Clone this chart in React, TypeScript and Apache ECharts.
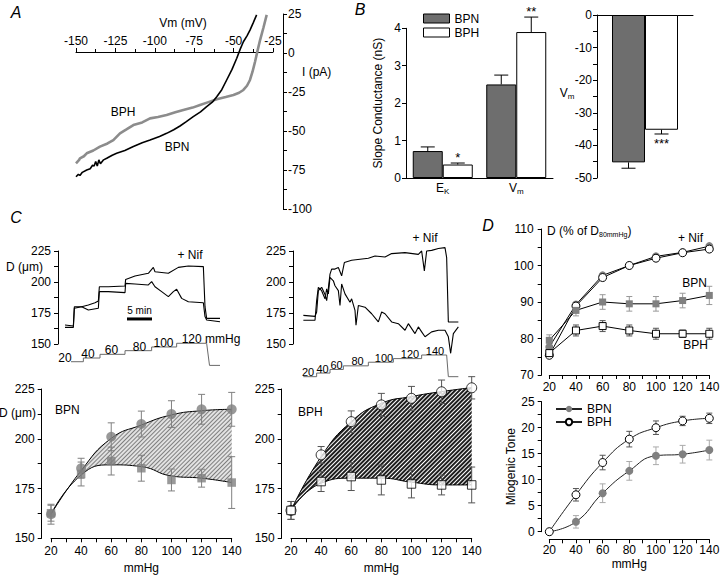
import React, { useEffect, useRef } from 'react';
import * as echarts from 'echarts';

const FONT = "'Liberation Sans', Arial, Helvetica, sans-serif";

// ---------------- Panel A : I-V relations ----------------
const A_BPN_VM = [-150, -148.5, -147.5, -146, -143.2, -141, -139.5, -138.5, -137.5, -136.5, -135.5, -134.5, -132.5, -130.5, -127, -124.2, -119, -113.6, -108, -103, -97, -92.5, -88, -84, -80, -75.6, -71, -67.1, -63.5, -60.7, -57.5, -54.4, -51, -48, -45.8, -43.8, -41.5, -39.6, -37.5, -35.4];
const A_BPN_I = [-79.3, -77.8, -78.5, -76.5, -75, -74.2, -72, -72.5, -69.5, -72.5, -68.5, -71, -68.5, -67.5, -65.5, -64.3, -62.5, -60, -57.5, -55.8, -53.5, -51.5, -49.2, -46.8, -44, -40.8, -37.7, -34.4, -31.5, -28, -23.5, -17.3, -10.5, -3.4, 2.5, 7.2, 11, 14.7, 19.5, 24.4];
const A_BPH_VM = [-150, -148, -147.5, -145, -143.2, -139, -134.8, -130, -126.3, -122.1, -118, -113.6, -108, -103, -98, -92.5, -87, -81.9, -76, -71.3, -66, -60.7, -55, -50.1, -46.5, -43.8, -41.5, -39.6, -38, -36.4, -34.8, -33.2, -31, -29];
const A_BPH_I = [-70.7, -68.5, -67.5, -66.2, -64.3, -62.5, -60, -58, -55.8, -51.5, -49, -46.2, -44.5, -41.9, -41, -39.7, -38, -36.5, -35, -33.3, -31.5, -29.7, -28.2, -26.9, -25.5, -23.7, -21, -17.3, -12, -5.6, 1.5, 8.3, 16.5, 24.4];

// ---------------- Panel B : slope conductance & Vm ----------------
const B_CATS = ['EK', 'Vm'];
const B_BPN = [0.72, 2.5];
const B_BPN_ERR = [0.11, 0.25];
const B_BPH = [0.36, 3.9];
const B_BPH_ERR = [0.04, 0.4];
const B_BPH_STARS = ['*', '**'];
const BV_CATS = ['Vm'];
const BV_BPN = [-45.2];
const BV_BPN_ERR = [1.8];
const BV_BPH = [-35.2];
const BV_BPH_ERR = [1.3];
const BV_BPH_STARS = ['***'];

// ---------------- Panel C top : diameter traces (minutes, µm) ----------------
const C1_UP_T = [1.4, 3.07, 3.27, 4.73, 6.07, 7.4, 8.07, 8.27, 10.07, 13.4, 13.53, 15.4, 18.07, 19.07, 19.4, 22.07, 24.07, 26.07, 29.07, 29.4, 29.73, 32.4];
const C1_UP_D = [165.3, 164.5, 180.1, 180.1, 181.5, 183.3, 184.7, 196.2, 196.2, 196.8, 202.1, 204.8, 207, 211.8, 208.3, 207, 211.8, 212.9, 212.4, 180.1, 170.7, 170.7];
const C1_LO_T = [1.4, 3.07, 3.27, 4.73, 6.07, 8.07, 8.27, 10.07, 13.4, 13.53, 15.4, 18.07, 18.73, 19.4, 20.73, 22.07, 23.07, 23.73, 24.73, 26.07, 29.07, 29.4, 29.73, 32.4];
const C1_LO_D = [163.4, 163.4, 178.8, 180.1, 177.4, 178.8, 192.2, 192.2, 191.4, 198.9, 198.4, 197.6, 200.3, 196.2, 192.2, 188.2, 192.2, 194.1, 186.8, 184.1, 183.3, 172.1, 169.4, 168];
const C2_UP_T = [2.07, 4.4, 4.73, 5.07, 5.73, 6.4, 6.73, 7.07, 7.4, 7.73, 8.4, 9.07, 9.73, 10.27, 11.73, 15.07, 16.4, 18.4, 19.73, 22.4, 25.07, 25.73, 26.27, 26.73, 27.73, 29.07, 30.4, 30.73, 31.07, 31.73, 33.07];
const C2_UP_D = [173.1, 172.3, 175.8, 193, 195.7, 190, 185, 195, 206.4, 210.4, 210.4, 211.7, 205, 215.7, 217.5, 219.1, 221, 220.2, 222.9, 223.7, 222.3, 225, 209, 225, 225.5, 227, 227.7, 219.7, 167.8, 167.8, 167.8];
const C2_LO_T = [2.07, 4.4, 4.73, 5.07, 5.73, 6.4, 6.73, 7.07, 7.4, 7.73, 8.07, 8.4, 9.07, 9.4, 9.73, 10.4, 11.4, 11.73, 12.4, 12.6, 13.07, 14.4, 15.73, 17.07, 17.73, 18.4, 19.73, 21.07, 22.4, 23.07, 24.4, 25.07, 25.73, 26.4, 27.73, 29.07, 30.4, 31.07, 31.53, 32.07, 33.07];
const C2_LO_D = [169.1, 169.1, 185, 195.7, 193, 186.4, 194.4, 190.4, 203.7, 202.4, 201, 197, 193, 181, 198.4, 190.4, 183.7, 186.4, 177.1, 165.1, 181, 179.7, 174.4, 167.8, 175.8, 174.4, 167.8, 166.4, 161.1, 166.4, 158.4, 163.8, 159.8, 155.8, 159.8, 161.1, 161.1, 155.8, 142.5, 158.4, 163.8];
const SCALE_BAR_T = [13.8, 18.8];
const SCALE_BAR_D = [170.2, 170.2];

// pressure protocol (minutes, mmHg)
const P1_T = [2.6, 5.07, 5.07, 8.4, 8.4, 13.4, 13.4, 18.73, 18.73, 23.73, 23.73, 29.73, 30.3, 32.4];
const P1_P = [20, 20, 40, 40, 60, 60, 80, 80, 100, 100, 120, 120, 0, 0];
const P1_LBL_T = [1.4, 6.0, 10.7, 16.3, 21.1, 30.6];
const P1_LBL_P = [20, 40, 60, 80, 100, 120];
const P1_LBL = ['20', '40', '60', '80', '100', '120 mmHg'];
const P2_T = [2.07, 4.73, 4.73, 7.4, 7.4, 10.07, 10.07, 15.07, 15.07, 20.07, 20.07, 25.73, 25.73, 30.73, 31.07, 33.07];
const P2_P = [20, 20, 40, 40, 60, 60, 80, 80, 100, 100, 120, 120, 140, 140, 20, 20];
const P2_LBL_T = [3.0, 5.9, 8.7, 12.9, 18.2, 23.4, 28.4];
const P2_LBL_P = [20, 40, 60, 80, 100, 120, 140];
const P2_LBL = ['20', '40', '60', '80', '100', '120', '140'];

// ---------------- Panel C bottom : pressure-diameter ----------------
const PRESS = [20, 40, 60, 80, 100, 120, 140];
const CN_PASS = [162.1, 185.2, 201, 207.4, 212.4, 214.8, 214.8];
const CN_PASS_ERR = [5, 5, 7, 6.5, 6.7, 7.5, 8.5];
const CN_ACT = [162.6, 182.3, 188.8, 185.2, 179.3, 180.2, 178];
const CN_ACT_ERR = [4, 6, 7, 6.5, 5.5, 4.5, 13];
const CN_FIT_UP = [162.1, 184, 200.2, 206.9, 212, 214.1, 214.8];
const CN_FIT_LO = [162.1, 181.8, 186.9, 186, 181.3, 180.2, 178];
const CH_PASS = [164, 191.9, 208.6, 217, 220.3, 223.6, 225.6];
const CH_PASS_ERR = [4.5, 4.2, 5.4, 5.8, 6, 5.9, 5.6];
const CH_ACT = [164, 178.5, 181, 179.3, 177.3, 176.8, 176.8];
const CH_ACT_ERR = [4.5, 5, 7, 7.5, 7, 5, 9];
const CH_FIT_UP = [164, 191, 208.6, 217.8, 221.2, 223.7, 225.7];
const CH_FIT_LO = [164, 177.7, 180.2, 180.2, 178.2, 176.8, 176.8];

// ---------------- Panel D ----------------
const DT_BPN_NIF = [77.7, 89.3, 97.3, 100, 102.5, 103.6, 105.3];
const DT_BPH_NIF = [75.4, 88.9, 96.7, 100, 102, 103.5, 104.5];
const DT_BPN = [79.5, 87.7, 90, 89.5, 89.5, 90.4, 91.8];
const DT_BPN_ERR = [1.5, 1.5, 2, 2, 2, 2, 2.5];
const DT_BPH = [76, 82.2, 83.4, 82.2, 81.3, 81.3, 81.3];
const DT_BPH_ERR = [1, 1.5, 1.5, 1.5, 1.5, 1, 1.5];
const DB_BPN = [0, 1.9, 7.4, 11.7, 14.6, 14.9, 15.7];
const DB_BPN_ERR = [0.3, 1.2, 1.8, 1.8, 1.7, 1.7, 1.9];
const DB_BPH = [0, 7.1, 13.3, 17.8, 20, 21.3, 21.8];
const DB_BPH_ERR = [0.3, 1.2, 1.4, 1.5, 1.3, 0.9, 1.0];

// ---------------- helpers ----------------
const zip = (a: any[], b: any[]) => a.map((v, i) => [v, b[i]]);

function isObj(v: any) { return v && typeof v === 'object' && !Array.isArray(v) && typeof v !== 'function'; }
function merge(a: any, b: any): any {
  const out: any = { ...a };
  Object.keys(b || {}).forEach((k) => {
    out[k] = isObj(a?.[k]) && isObj(b[k]) ? merge(a[k], b[k]) : b[k];
  });
  return out;
}

const BLACK = '#000';
const baseAxis = {
  axisLine: { show: true, onZero: false, lineStyle: { color: BLACK, width: 1 } },
  axisTick: { show: true, length: 4, lineStyle: { color: BLACK, width: 1 } },
  minorTick: { show: false },
  axisLabel: { show: true, color: BLACK, fontSize: 12, fontFamily: FONT, margin: 6, showMinLabel: true, showMaxLabel: true },
  splitLine: { show: false },
  nameTextStyle: { color: BLACK, fontSize: 12, fontFamily: FONT },
};
const minor = { minorTick: { show: true, splitNumber: 2, length: 4, lineStyle: { color: BLACK, width: 1 } } };
const vAxis = (o: any) => merge(merge({ type: 'value' }, baseAxis), o);
const hidden = (gridIndex: number, min: number, max: number) => ({ type: 'value', show: false, gridIndex, min, max });

function errSeries(xi: number, yi: number, xs: any[], means: number[], errs: number[], opts: any) {
  const data = xs.map((x, i) => [x, means[i], errs[i]]);
  return {
    type: 'custom', xAxisIndex: xi, yAxisIndex: yi, data, z: opts.z ?? 3, clip: false, silent: true,
    encode: { x: 0, y: 1 },
    renderItem: (params: any, api: any) => {
      const x = api.value(0), m = api.value(1), e = api.value(2);
      const c = api.coord([x, m]);
      const up = api.coord([x, m + e]);
      const dn = api.coord([x, m - e]);
      const cx = c[0] + (opts.dx || 0);
      const w = opts.cap ?? 3;
      const st = { stroke: opts.color || BLACK, lineWidth: opts.width || 1 };
      const top = opts.dir === 'down' ? c[1] : up[1];
      const bot = opts.dir === 'up' ? c[1] : dn[1];
      const children: any[] = [{ type: 'line', shape: { x1: cx, y1: top, x2: cx, y2: bot }, style: st }];
      if (opts.dir !== 'down') children.push({ type: 'line', shape: { x1: cx - w, y1: up[1], x2: cx + w, y2: up[1] }, style: st });
      if (opts.dir !== 'up') children.push({ type: 'line', shape: { x1: cx - w, y1: dn[1], x2: cx + w, y2: dn[1] }, style: st });
      if (opts.stars) {
        const s = opts.stars[params.dataIndex];
        const ty = opts.dir === 'down' ? dn[1] + 10 : up[1] - 6;
        children.push({ type: 'text', x: cx, y: ty, style: { text: s, fill: BLACK, fontSize: 13, fontFamily: FONT, align: 'center', verticalAlign: 'middle', textAlign: 'center', textVerticalAlign: 'middle' } });
      }
      return { type: 'group', children };
    },
  };
}

// step labels of the pressure protocol, placed at data coordinates
function stepLabels(xi: number, ts: number[], ps: number[], labels: string[], size: number, dy: number) {
  return {
    type: 'custom', xAxisIndex: xi, yAxisIndex: xi, z: 6, clip: false, silent: true,
    data: ts.map((t, i) => [t, ps[i], i]),
    encode: { x: 0, y: 1 },
    renderItem: (params: any, api: any) => {
      const p = api.coord([api.value(0), api.value(1)]);
      return {
        type: 'text', x: p[0], y: p[1] + dy,
        style: { text: labels[params.dataIndex], fill: '#000000', fontSize: size, fontFamily: FONT, align: 'center', verticalAlign: 'bottom', textAlign: 'center', textVerticalAlign: 'bottom' },
      };
    },
  };
}

const txt = (x: number, y: number, text: string, extra: any = {}, el: any = {}) => ({
  type: 'text', x, y, silent: true, ...el,
  style: { text, fill: BLACK, fontSize: 12, fontFamily: FONT, align: 'center', verticalAlign: 'middle', textAlign: 'center', textVerticalAlign: 'middle', ...extra },
});

const GRAY = '#808080';
const openSym = { color: '#fff', borderColor: BLACK, borderWidth: 1 };
const grayFill = { color: GRAY, borderColor: GRAY, borderWidth: 0 };

function buildOption() {
  const grids = [
    { left: 76, top: 14, width: 197, height: 195 },          // 0 A (data)
    { left: 406, top: 28.3, width: 147, height: 149.7 },     // 1 B
    { left: 597, top: 15, width: 96, height: 163 },          // 2 B Vm
    { left: 58, top: 251, width: 170, height: 93 },          // 3 C trace BPN
    { left: 58, top: 339.6, width: 170, height: 25.8 },      // 4 C pressure BPN
    { left: 293, top: 251, width: 170, height: 93 },         // 5 C trace BPH
    { left: 293, top: 353.2, width: 170, height: 27.1 },     // 6 C pressure BPH
    { left: 51, top: 389, width: 180.7, height: 149.3 },     // 7 C BPN P-D
    { left: 291, top: 389, width: 180.7, height: 149.3 },    // 8 C BPH P-D
    { left: 549.3, top: 229, width: 160, height: 146 },      // 9 D top
    { left: 549.3, top: 401.7, width: 160, height: 130 },    // 10 D bottom
    { left: 76, top: 14, width: 197, height: 38 },           // 11 A voltage axis at I = 0
  ].map((g) => ({ ...g, containLabel: false, outerBoundsMode: 'none', show: false }));

  const pressX = (gi: number, extra: any = {}) => vAxis(merge({
    gridIndex: gi, min: 20, max: 140, interval: 20, position: 'bottom',
    axisLabel: { margin: 7 },
  }, merge(minor, extra)));

  const xAxis = [
    hidden(0, -150, -25),
    merge(baseAxis, { type: 'category', gridIndex: 1, data: B_CATS, axisTick: { show: false }, axisLine: { onZero: true },
      axisLabel: { margin: 3, formatter: (v: string) => (v === 'EK' ? '{m|E}{s|K}' : '{m|V}{s|m}'),
        rich: { m: { fontSize: 12, fontFamily: FONT, color: BLACK }, s: { fontSize: 8, fontFamily: FONT, color: BLACK, padding: [6, 0, 0, 0] } } } }),
    merge(baseAxis, { type: 'category', gridIndex: 2, data: BV_CATS, position: 'top', axisTick: { show: false }, axisLabel: { show: false } }),
    hidden(3, 0, 34),
    hidden(4, 0, 34),
    hidden(5, 0, 34),
    hidden(6, 0, 34),
    pressX(7, { name: 'mmHg', nameLocation: 'middle', nameGap: 24 }),
    pressX(8, { name: 'mmHg', nameLocation: 'middle', nameGap: 24 }),
    pressX(9, { axisLabel: { margin: 6 } }),
    pressX(10, { offset: 7.6, axisLabel: { margin: 5 }, name: 'mmHg', nameLocation: 'middle', nameGap: 19 }),
    vAxis(merge(minor, { gridIndex: 11, min: -150, max: -25, interval: 25, position: 'bottom', axisTick: { inside: true }, minorTick: { length: 3 }, axisLabel: { inside: true, margin: 5 } })),
  ];

  const yAxis = [
    vAxis(merge(minor, { gridIndex: 0, min: -100, max: 25, interval: 25, position: 'right', offset: 10, axisLabel: { margin: 5 } })),
    vAxis({ gridIndex: 1, min: 0, max: 4, interval: 1, axisLabel: { margin: 5 }, name: 'Slope Conductance (nS)', nameLocation: 'middle', nameRotate: 90, nameGap: 22 }),
    vAxis(merge(minor, { gridIndex: 2, min: -50, max: 0, interval: 10, axisLabel: { margin: 5 } })),
    vAxis(merge(minor, { gridIndex: 3, min: 150, max: 225, interval: 25, axisLabel: { margin: 7 } })),
    hidden(4, 0, 140),
    vAxis(merge(minor, { gridIndex: 5, min: 150, max: 225, interval: 25, axisLabel: { margin: 7 } })),
    hidden(6, 0, 150),
    vAxis(merge(minor, { gridIndex: 7, min: 150, max: 225, interval: 25, offset: 9.3, axisLabel: { margin: 7 } })),
    vAxis(merge(minor, { gridIndex: 8, min: 150, max: 225, interval: 25, offset: 9.3, axisLabel: { margin: 7 } })),
    vAxis(merge(minor, { gridIndex: 9, min: 70, max: 110, interval: 10, offset: 7.6, axisLabel: { margin: 8 } })),
    vAxis(merge(minor, { gridIndex: 10, min: 0, max: 25, interval: 5, offset: 7.6, axisLabel: { margin: 7 }, name: 'Miogenic Tone', nameLocation: 'middle', nameRotate: 90, nameGap: 22 })),
    hidden(11, 0, 25),
  ];

  const lineS = (xi: number, data: any[], color: string, width: number, extra: any = {}) => merge({
    type: 'line', xAxisIndex: xi, yAxisIndex: xi, data, symbol: 'none', showSymbol: false, clip: false,
    lineStyle: { color, width }, z: 2, silent: true,
  }, extra);

  const scatterS = (xi: number, data: any[], symbol: string, size: number, itemStyle: any, name?: string) => ({
    type: 'scatter', name, xAxisIndex: xi, yAxisIndex: xi, data, symbol, symbolSize: size, itemStyle, z: 5, silent: true, clip: false,
  });

  // band between two fitted curves: values stacked along the first dimension (the y value)
  const band = (xi: number, lo: number[], up: number[], stack: string, bg: string, hatch: any) => [
    lineS(xi, zip(lo, PRESS), BLACK, 1, { stack, smooth: true, z: 2, encode: { x: 1, y: 0 } }),
    lineS(xi, zip(up.map((v, i) => v - lo[i]), PRESS), BLACK, 1, {
      stack, smooth: true, z: 1, encode: { x: 1, y: 0 },
      lineStyle: { decal: hatch },
      itemStyle: { decal: hatch },
      areaStyle: { color: bg, opacity: 1 },
    }),
  ];

  const hatchN = { symbol: 'rect', symbolSize: 1, color: '#7e7e7e', dashArrayX: [1, 0], dashArrayY: [1, 1.6], rotation: -Math.PI / 4 };
  const hatchH = { symbol: 'rect', symbolSize: 1, color: '#1e1e1e', dashArrayX: [1, 0], dashArrayY: [1.2, 0.9], rotation: -Math.PI / 4 };

  const series: any[] = [
    // A
    lineS(0, zip(A_BPH_VM, A_BPH_I), '#8c8c8c', 2.6),
    lineS(0, zip(A_BPN_VM, A_BPN_I), BLACK, 1.6, { z: 3 }),
    // B
    { type: 'bar', name: 'BPN', xAxisIndex: 1, yAxisIndex: 1, data: B_BPN, barWidth: 30, barGap: '0%', itemStyle: { color: '#6e6e6e', borderColor: BLACK, borderWidth: 1 }, silent: true },
    { type: 'bar', name: 'BPH', xAxisIndex: 1, yAxisIndex: 1, data: B_BPH, barWidth: 30, barGap: '0%', itemStyle: { color: '#fff', borderColor: BLACK, borderWidth: 1 }, silent: true },
    errSeries(1, 1, B_CATS, B_BPN, B_BPN_ERR, { dir: 'up', dx: -15, cap: 7 }),
    errSeries(1, 1, B_CATS, B_BPH, B_BPH_ERR, { dir: 'up', dx: 15, cap: 7, stars: B_BPH_STARS }),
    { type: 'bar', name: 'BPN Vm', xAxisIndex: 2, yAxisIndex: 2, data: BV_BPN, barWidth: 33, barGap: '0%', itemStyle: { color: '#6e6e6e', borderColor: BLACK, borderWidth: 1 }, silent: true },
    { type: 'bar', name: 'BPH Vm', xAxisIndex: 2, yAxisIndex: 2, data: BV_BPH, barWidth: 33, barGap: '0%', itemStyle: { color: '#fff', borderColor: BLACK, borderWidth: 1 }, silent: true },
    errSeries(2, 2, BV_CATS, BV_BPN, BV_BPN_ERR, { dir: 'down', dx: -16.5, cap: 7 }),
    errSeries(2, 2, BV_CATS, BV_BPH, BV_BPH_ERR, { dir: 'down', dx: 16.5, cap: 7, stars: BV_BPH_STARS }),
    // C top traces
    lineS(3, zip(C1_UP_T, C1_UP_D), BLACK, 1.1),
    lineS(3, zip(C1_LO_T, C1_LO_D), BLACK, 1.1),
    lineS(3, zip(SCALE_BAR_T, SCALE_BAR_D), BLACK, 3),
    lineS(4, zip(P1_T, P1_P), '#6a6a6a', 1),
    stepLabels(4, P1_LBL_T, P1_LBL_P, P1_LBL, 12, 2),
    lineS(5, zip(C2_UP_T, C2_UP_D), BLACK, 1.1),
    lineS(5, zip(C2_LO_T, C2_LO_D), BLACK, 1.1),
    lineS(6, zip(P2_T, P2_P), '#6a6a6a', 1),
    stepLabels(6, P2_LBL_T, P2_LBL_P, P2_LBL, 11, 1),
    // C bottom BPN
    ...band(7, CN_FIT_LO, CN_FIT_UP, 'bandN', '#e2e2e2', hatchN),
    errSeries(7, 7, PRESS, CN_PASS, CN_PASS_ERR, { color: GRAY, cap: 3.5 }),
    errSeries(7, 7, PRESS, CN_ACT, CN_ACT_ERR, { color: GRAY, cap: 3.5 }),
    scatterS(7, zip(PRESS, CN_PASS), 'circle', 10, grayFill),
    scatterS(7, zip(PRESS, CN_ACT), 'rect', 8.5, grayFill),
    // C bottom BPH
    ...band(8, CH_FIT_LO, CH_FIT_UP, 'bandH', '#ffffff', hatchH),
    errSeries(8, 8, PRESS, CH_PASS, CH_PASS_ERR, { color: '#555', cap: 3.5 }),
    errSeries(8, 8, PRESS, CH_ACT, CH_ACT_ERR, { color: '#555', cap: 3.5 }),
    scatterS(8, zip(PRESS, CH_PASS), 'circle', 10, openSym),
    scatterS(8, zip(PRESS, CH_ACT), 'rect', 8.5, openSym),
    // D top
    errSeries(9, 9, PRESS, DT_BPN, DT_BPN_ERR, { color: '#999', cap: 3 }),
    errSeries(9, 9, PRESS, DT_BPH, DT_BPH_ERR, { color: '#555', cap: 3 }),
    lineS(9, zip(PRESS, DT_BPN_NIF), BLACK, 1, { symbol: 'circle', showSymbol: true, symbolSize: 8, itemStyle: grayFill, z: 4 }),
    lineS(9, zip(PRESS, DT_BPH_NIF), BLACK, 1, { symbol: 'circle', showSymbol: true, symbolSize: 8, itemStyle: openSym, z: 4 }),
    lineS(9, zip(PRESS, DT_BPN), BLACK, 1, { symbol: 'rect', showSymbol: true, symbolSize: 7, itemStyle: grayFill, z: 4 }),
    lineS(9, zip(PRESS, DT_BPH), BLACK, 1, { symbol: 'rect', showSymbol: true, symbolSize: 7, itemStyle: openSym, z: 4 }),
    // D bottom
    errSeries(10, 10, PRESS, DB_BPN, DB_BPN_ERR, { color: '#aaa', cap: 3 }),
    errSeries(10, 10, PRESS, DB_BPH, DB_BPH_ERR, { color: '#555', cap: 3 }),
    lineS(10, zip(PRESS, DB_BPN), '#222', 1, { name: 'BPN tone', smooth: true, symbol: 'circle', showSymbol: true, symbolSize: 8, itemStyle: grayFill, z: 4 }),
    lineS(10, zip(PRESS, DB_BPH), '#222', 1, { name: 'BPH tone', smooth: true, symbol: 'circle', showSymbol: true, symbolSize: 8, itemStyle: openSym, z: 4 }),
  ];

  const graphic = [
    txt(16, 12, 'A', { fontSize: 16, fontStyle: 'italic' }),
    txt(360, 9, 'B', { fontSize: 16, fontStyle: 'italic' }),
    txt(16, 217, 'C', { fontSize: 16, fontStyle: 'italic' }),
    txt(488, 225, 'D', { fontSize: 16, fontStyle: 'italic' }),
    txt(183, 23, 'Vm (mV)'),
    txt(302, 72, 'I (pA)', { align: 'left', textAlign: 'left' }),
    txt(123, 112, 'BPH'),
    txt(177, 147, 'BPN'),
    txt(567, 93, 'V{s|m}', { rich: { s: { fontSize: 8, fontFamily: FONT, fill: BLACK, padding: [6, 0, 0, 0] } } }),
    txt(43, 267, 'D (μm)', { align: 'right', textAlign: 'right' }),
    txt(190, 255, '+ Nif'),
    txt(425, 238, '+ Nif'),
    txt(139.5, 310, '5 min', { fontSize: 10 }),
    txt(36, 413, 'D (μm)', { align: 'right', textAlign: 'right' }),
    txt(55, 410, 'BPN', { align: 'left', textAlign: 'left' }),
    txt(298, 412, 'BPH', { align: 'left', textAlign: 'left' }),
    txt(547, 231, 'D (% of D{s|80mmHg})', { align: 'left', textAlign: 'left', rich: { s: { fontSize: 7, fontFamily: FONT, fill: BLACK, padding: [6, 0, 0, 0] } } }),
    txt(703, 238, '+ Nif', { align: 'right', textAlign: 'right' }),
    txt(707, 283, 'BPN', { align: 'right', textAlign: 'right' }),
    txt(708, 345, 'BPH', { align: 'right', textAlign: 'right' }),
  ];

  return {
    animation: false,
    backgroundColor: '#fff',
    textStyle: { fontFamily: FONT },
    grid: grids,
    xAxis,
    yAxis,
    legend: [
      { data: ['BPN', 'BPH'], left: 423, top: 12.5, orient: 'vertical', itemWidth: 26, itemHeight: 9, itemGap: 2, padding: 0, selectedMode: false, icon: 'rect',
        textStyle: { fontSize: 12, fontFamily: FONT, color: BLACK }, itemStyle: { borderColor: BLACK, borderWidth: 1 } },
      { data: ['BPN tone', 'BPH tone'], left: 555, top: 402.5, orient: 'vertical', itemWidth: 26, itemHeight: 8, itemGap: 0, padding: 0, selectedMode: false,
        formatter: (n: string) => n.split(' ')[0], textStyle: { fontSize: 12, fontFamily: FONT, color: BLACK, lineHeight: 13 } },
    ],
    series,
    graphic,
  };
}

export default function App() {
  const ref = useRef<HTMLDivElement>(null);
  useEffect(() => {
    if (!ref.current) return;
    const chart = echarts.init(ref.current, undefined, { renderer: 'svg', width: 720, height: 575 });
    chart.setOption(buildOption() as any);
    return () => chart.dispose();
  }, []);
  return <div ref={ref} style={{ position: 'absolute', left: 0, top: 0, width: 720, height: 575, background: '#fff' }} />;
}
